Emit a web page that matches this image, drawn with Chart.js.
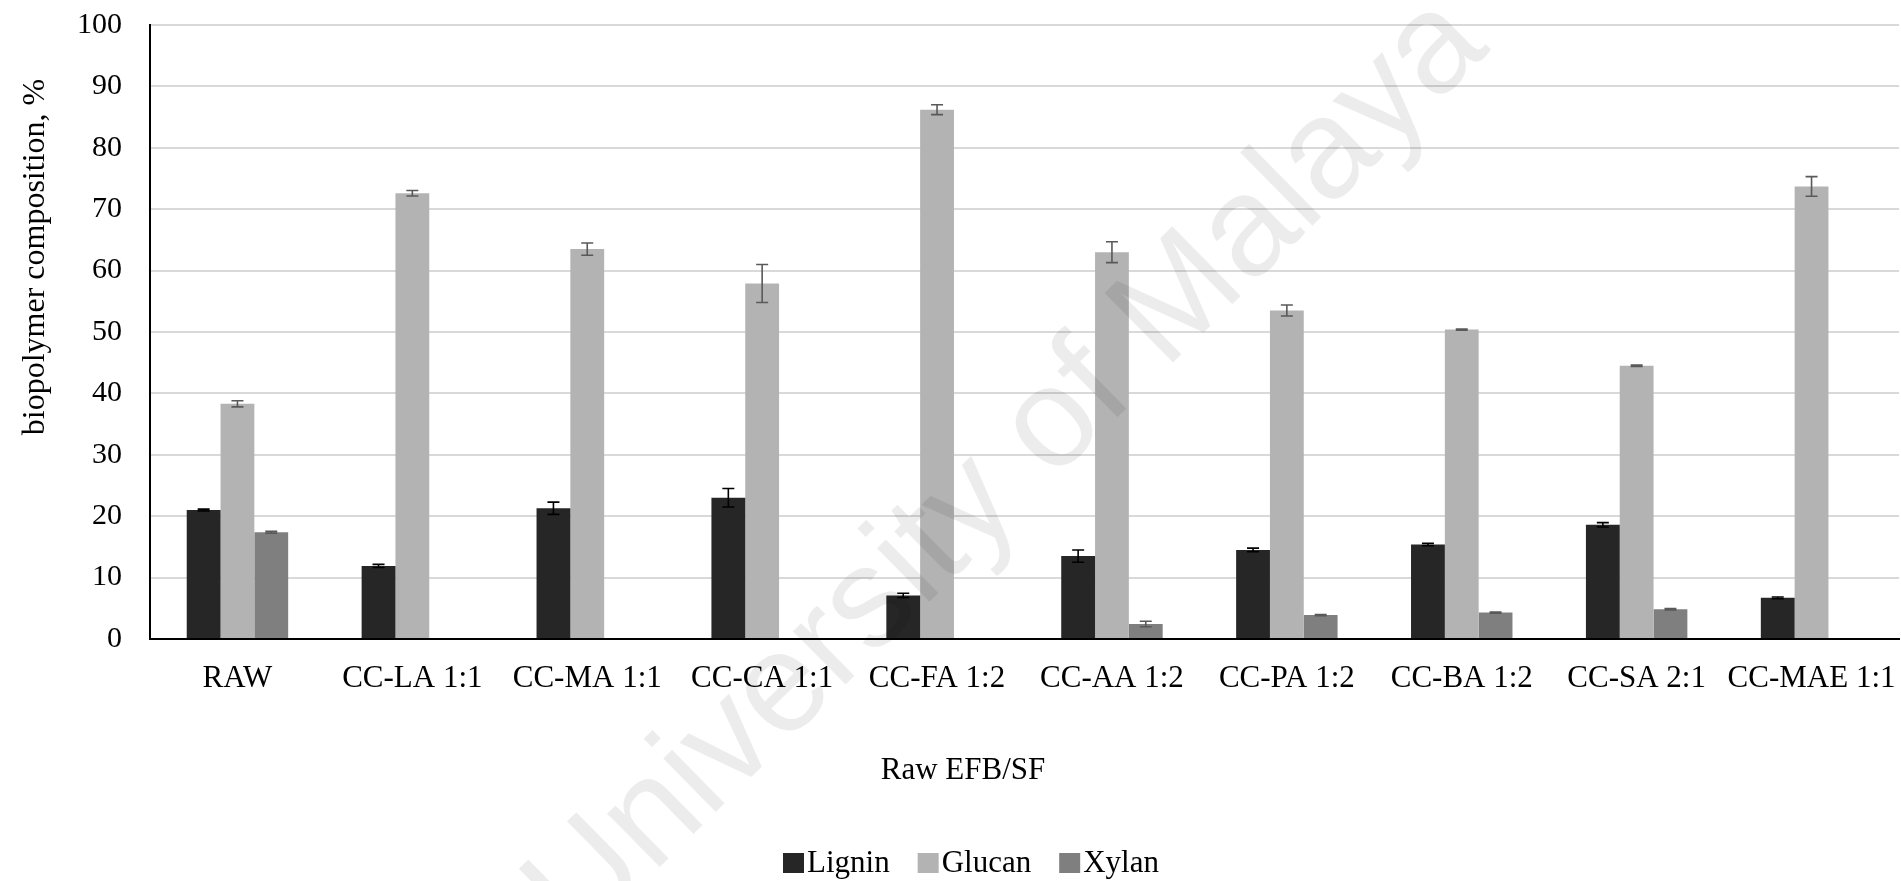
<!DOCTYPE html>
<html>
<head>
<meta charset="utf-8">
<title>Biopolymer composition</title>
<script src="https://cdn.jsdelivr.net/npm/chart.js@4.4.1/dist/chart.umd.min.js"></script>
<style>
  html, body { margin: 0; padding: 0; background: #ffffff; }
  #wrap { width: 1901px; height: 881px; }
</style>
</head>
<body>
<div id="wrap"><canvas id="chart" width="1901" height="881"></canvas></div>
<script>
// Pretreatment conditions on the category axis
const categories = ['RAW', 'CC-LA 1:1', 'CC-MA 1:1', 'CC-CA 1:1', 'CC-FA 1:2',
                    'CC-AA 1:2', 'CC-PA 1:2', 'CC-BA 1:2', 'CC-SA 2:1', 'CC-MAE 1:1'];

// Composition (%) and standard deviations per component
const lignin    = [21.0, 11.9, 21.3, 23.0, 7.1, 13.5, 14.5, 15.4, 18.6, 6.7];
const ligninErr = [0.15, 0.25, 1.0, 1.5, 0.35, 1.0, 0.3, 0.2, 0.35, 0.15];
const glucan    = [38.3, 72.6, 63.5, 57.9, 86.2, 63.0, 53.5, 50.4, 44.5, 73.7];
const glucanErr = [0.5, 0.45, 1.0, 3.1, 0.8, 1.7, 0.9, 0.1, 0.1, 1.6];
const xylan     = [17.4, null, null, null, null, 2.45, 3.9, 4.3, 4.85, null];
const xylanErr  = [0.15, null, null, null, null, 0.45, 0.1, 0.1, 0.1, null];

const yTicks = { min: 0, max: 100, step: 10 };

const SERIF = '"Liberation Serif", "Times New Roman", serif';

// Vertical error bars with caps, one per bar
const errorBars = {
  id: 'errorBars',
  afterDatasetsDraw(chart) {
    const ctx = chart.ctx;
    const y = chart.scales.y;
    chart.data.datasets.forEach((ds, i) => {
      const meta = chart.getDatasetMeta(i);
      if (meta.hidden) return;
      meta.data.forEach((bar, j) => {
        const v = ds.data[j], e = ds.errors[j];
        if (v == null || e == null) return;
        const top = y.getPixelForValue(v + e);
        const bot = y.getPixelForValue(v - e);
        const half = 6;
        ctx.save();
        ctx.strokeStyle = ds.errorColor;
        ctx.lineWidth = 1.6;
        ctx.beginPath();
        ctx.moveTo(bar.x, top); ctx.lineTo(bar.x, bot);
        ctx.moveTo(bar.x - half, top); ctx.lineTo(bar.x + half, top);
        ctx.moveTo(bar.x - half, bot); ctx.lineTo(bar.x + half, bot);
        ctx.stroke();
        ctx.restore();
      });
    });
  }
};

// Axis titles, legend row and the faint diagonal watermark
const decorations = {
  id: 'decorations',
  afterDraw(chart) {
    const ctx = chart.ctx;
    ctx.save();
    ctx.fillStyle = '#000000';

    // y-axis title
    ctx.save();
    ctx.translate(36, 257);
    ctx.rotate(-Math.PI / 2);
    ctx.font = '32px ' + SERIF;
    ctx.textAlign = 'center';
    ctx.textBaseline = 'middle';
    ctx.fillText('biopolymer composition, %', 0, 0);
    ctx.restore();

    // x-axis title
    ctx.font = '31px ' + SERIF;
    ctx.textAlign = 'center';
    ctx.textBaseline = 'middle';
    ctx.fillText('Raw EFB/SF', 963, 771);

    // legend
    ctx.font = '31px ' + SERIF;
    ctx.textAlign = 'left';
    ctx.textBaseline = 'middle';
    let x = 783;
    const cy = 863;
    chart.data.datasets.forEach((ds) => {
      ctx.fillStyle = ds.backgroundColor;
      ctx.fillRect(x, cy - 10, 21, 20);
      ctx.fillStyle = '#000000';
      ctx.fillText(ds.label, x + 24, cy + 1);
      x += 24 + ctx.measureText(ds.label).width + 28;
    });

    // watermark
    ctx.save();
    ctx.translate(1008, 470);
    ctx.rotate(-44.5 * Math.PI / 180);
    ctx.font = '142px "Liberation Sans", Arial, sans-serif';
    ctx.fillStyle = 'rgba(0,0,0,0.075)';
    ctx.textAlign = 'center';
    ctx.textBaseline = 'middle';
    ctx.fillText('University of Malaya', 0, 0);
    ctx.restore();

    ctx.restore();
  }
};

new Chart(document.getElementById('chart'), {
  type: 'bar',
  data: {
    labels: categories,
    datasets: [
      { label: 'Lignin', data: lignin, errors: ligninErr, backgroundColor: '#262626', errorColor: '#000000' },
      { label: 'Glucan', data: glucan, errors: glucanErr, backgroundColor: '#b3b3b3', errorColor: '#595959' },
      { label: 'Xylan',  data: xylan,  errors: xylanErr,  backgroundColor: '#7f7f7f', errorColor: '#595959' }
    ]
  },
  options: {
    responsive: false,
    animation: false,
    events: [],
    layout: { padding: { left: 50, top: 25, right: 2, bottom: 0 } },
    datasets: { bar: { categoryPercentage: 0.58, barPercentage: 1.0, borderWidth: 0 } },
    plugins: {
      legend: { display: false },
      tooltip: { enabled: false },
      title: { display: false }
    },
    scales: {
      x: {
        grid: { display: false, drawTicks: false },
        border: { display: true, color: '#000000', width: 2 },
        ticks: { color: '#000000', font: { family: SERIF, size: 31 }, padding: 21, maxRotation: 0, autoSkip: false },
        afterFit(scale) {
          scale.height = 242;
          scale.paddingLeft = 0;
          scale.paddingRight = 0;
        }
      },
      y: {
        min: yTicks.min,
        max: yTicks.max,
        grid: { color: '#d9d9d9', lineWidth: 2, drawTicks: false },
        border: { display: true, color: '#000000', width: 2 },
        ticks: { stepSize: yTicks.step, color: '#000000', font: { family: SERIF, size: 30 }, padding: 28 },
        afterFit(scale) {
          scale.width = 100;
          scale.paddingTop = 0;
          scale.paddingBottom = 0;
        }
      }
    }
  },
  plugins: [errorBars, decorations]
});
</script>
</body>
</html>
